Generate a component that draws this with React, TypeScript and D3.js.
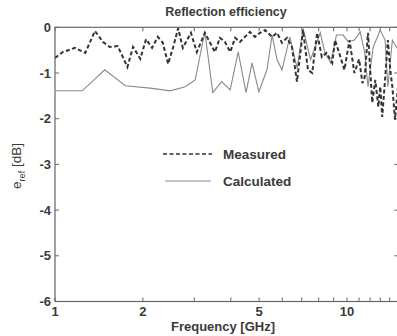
import React, { useEffect } from "react";
import * as d3 from "d3";

// measured reflection efficiency (dashed)
const measFreq = [
  1.0, 1.065, 1.17, 1.27, 1.37, 1.46, 1.54, 1.64, 1.77, 1.85, 1.96, 2.05, 2.15, 2.25, 2.34, 2.44, 2.54, 2.64,
  2.74, 2.92, 3.06, 3.26, 3.53, 3.67, 3.82, 3.98, 4.14, 4.3, 4.47, 4.65, 4.84, 5.04, 5.24, 5.54, 5.76, 5.99,
  6.23, 6.48, 6.74, 7.07, 7.35, 7.6, 7.9, 8.2, 8.5, 8.9, 9.1, 9.4, 9.8, 10.2, 10.6, 11.0, 11.3, 11.5, 11.8,
  12.2, 12.5, 12.8, 13.0, 13.2, 13.5, 13.8, 14.1, 14.3, 14.6, 15.0,
];
const measDb = [
  -0.67, -0.54, -0.45, -0.56, -0.08, -0.32, -0.43, -0.41, -0.87, -0.43, -0.69, -0.26, -0.45, -0.21, -0.34,
  -0.8, -0.43, -0.02, -0.45, -0.12, -0.54, -0.12, -0.54, -0.23, -0.32, -0.54, -0.23, -0.32, -0.21, -0.1,
  -0.21, -0.12, -0.06, -0.21, -0.12, -0.34, -0.23, -0.43, -1.19, -0.06, -0.93, -1.0, -0.12, -0.65, -0.56,
  -0.78, -0.28, -0.56, -0.93, -0.28, -1.0, -0.7, -1.22, -1.09, -0.12, -1.65, -1.15, -1.74, -1.3, -1.96,
  -1.15, -0.28, -1.0, -1.3, -2.02, -1.2,
];

// calculated reflection efficiency (solid)
const calcFreq = [
  1.0, 1.24, 1.48, 1.74, 2.12, 2.48, 2.79, 3.02, 3.26, 3.47, 3.72, 3.98, 4.24, 4.51, 4.73, 4.99, 5.32, 5.54,
  5.76, 5.99, 6.37, 6.75, 7.07, 7.5, 8.1, 8.4, 8.8, 9.2, 9.7, 10.1, 10.6, 11.1, 11.5, 11.8, 12.3, 13.0, 13.5,
  13.8, 14.3, 15.0,
];
const calcDb = [
  -1.39, -1.39, -0.93, -1.28, -1.33, -1.39, -1.3, -1.15, -0.1, -1.43, -1.19, -1.37, -0.54, -1.43, -0.78,
  -1.41, -0.93, -0.17, -0.71, -0.93, -0.21, -0.9, -0.02, -0.71, -0.12, -0.56, -0.78, -0.17, -0.17, -0.32,
  -0.28, -0.1, -0.56, -1.3, -0.43, -0.06, -0.28, -1.3, -0.28, -0.5,
];

const xTickLabels = [1, 2, 5, 10];
const xMinorTicks = [3, 4, 6, 7, 8, 9, 11, 12, 13, 14];
const yTicks = [0, -1, -2, -3, -4, -5, -6];

const W = 397;
const H = 336;
const left = 55;
const top = 27.3;
const bottom = 301.5;
const font = "'Liberation Sans', Arial, sans-serif";
const textColor = "#3a3a3a";

export default function App() {
  useEffect(() => {
    document.body.style.margin = "0";
  }, []);

  const x = d3.scaleLog().domain([1, 15.1]).range([left, left + 292 * Math.log10(15.1)]);
  const y = d3.scaleLinear().domain([-6, 0]).range([bottom, top]);
  const right = x(15.1);

  const line = d3
    .line<[number, number]>()
    .x((d) => x(d[0]))
    .y((d) => y(d[1]));

  const meas = measFreq.map((f, i) => [f, measDb[i]] as [number, number]);
  const calc = calcFreq.map((f, i) => [f, calcDb[i]] as [number, number]);

  return (
    <svg width={W} height={H} style={{ display: "block", background: "#fff" }}>
      <defs>
        <clipPath id="plot">
          <rect x={left} y={top} width={right - left} height={bottom - top} />
        </clipPath>
      </defs>

      {/* title */}
      <text x={226} y={16} textAnchor="middle" fontFamily={font} fontSize={12.5} fontWeight="bold" fill={textColor}>
        Reflection efficiency
      </text>

      {/* frame */}
      <rect x={left} y={top} width={right - left} height={bottom - top} fill="none" stroke="#666" strokeWidth={1.2} />

      {/* x ticks */}
      {[...xTickLabels, ...xMinorTicks].map((t) => (
        <g key={"xt" + t}>
          <line x1={x(t)} x2={x(t)} y1={bottom} y2={bottom - 4} stroke="#666" />
          <line x1={x(t)} x2={x(t)} y1={top} y2={top + 4} stroke="#666" />
        </g>
      ))}
      {xTickLabels.map((t) => (
        <text key={"xl" + t} x={x(t)} y={316} textAnchor="middle" fontFamily={font} fontSize={13} fontWeight="bold" fill={textColor}>
          {t}
        </text>
      ))}

      {/* y ticks */}
      {yTicks.map((t) => (
        <g key={"yt" + t}>
          <line x1={left} x2={left + 4} y1={y(t)} y2={y(t)} stroke="#666" />
          <line x1={right} x2={right - 5} y1={y(t)} y2={y(t)} stroke="#666" />
          <text x={51} y={y(t) + 4.5} textAnchor="end" fontFamily={font} fontSize={13} fontWeight="bold" fill={textColor}>
            {t === 0 ? "0" : "-" + Math.abs(t)}
          </text>
        </g>
      ))}

      {/* axis labels */}
      <text x={223} y={331} textAnchor="middle" fontFamily={font} fontSize={13} fontWeight="bold" fill={textColor}>
        Frequency [GHz]
      </text>
      <text transform="translate(21,166) rotate(-90)" textAnchor="middle" fontFamily={font} fontSize={13.5} fill={textColor}>
        e<tspan fontSize={9} dy={4}>ref</tspan>
        <tspan dy={-4}> [dB]</tspan>
      </text>

      {/* data */}
      <g clipPath="url(#plot)">
        <path d={line(calc) ?? ""} fill="none" stroke="#8a8a8a" strokeWidth={1.1} />
        <path d={line(meas) ?? ""} fill="none" stroke="#333" strokeWidth={2} strokeDasharray="4,2.5" />
      </g>

      {/* legend */}
      <line x1={163} x2={212} y1={154} y2={154} stroke="#333" strokeWidth={1.6} strokeDasharray="4,2.5" />
      <text x={223} y={158.5} fontFamily={font} fontSize={13.5} fill={textColor} fontWeight="bold">
        Measured
      </text>
      <line x1={165} x2={211} y1={181} y2={181} stroke="#8a8a8a" strokeWidth={1.1} />
      <text x={223} y={185.5} fontFamily={font} fontSize={13.5} fill={textColor} fontWeight="bold">
        Calculated
      </text>
    </svg>
  );
}
